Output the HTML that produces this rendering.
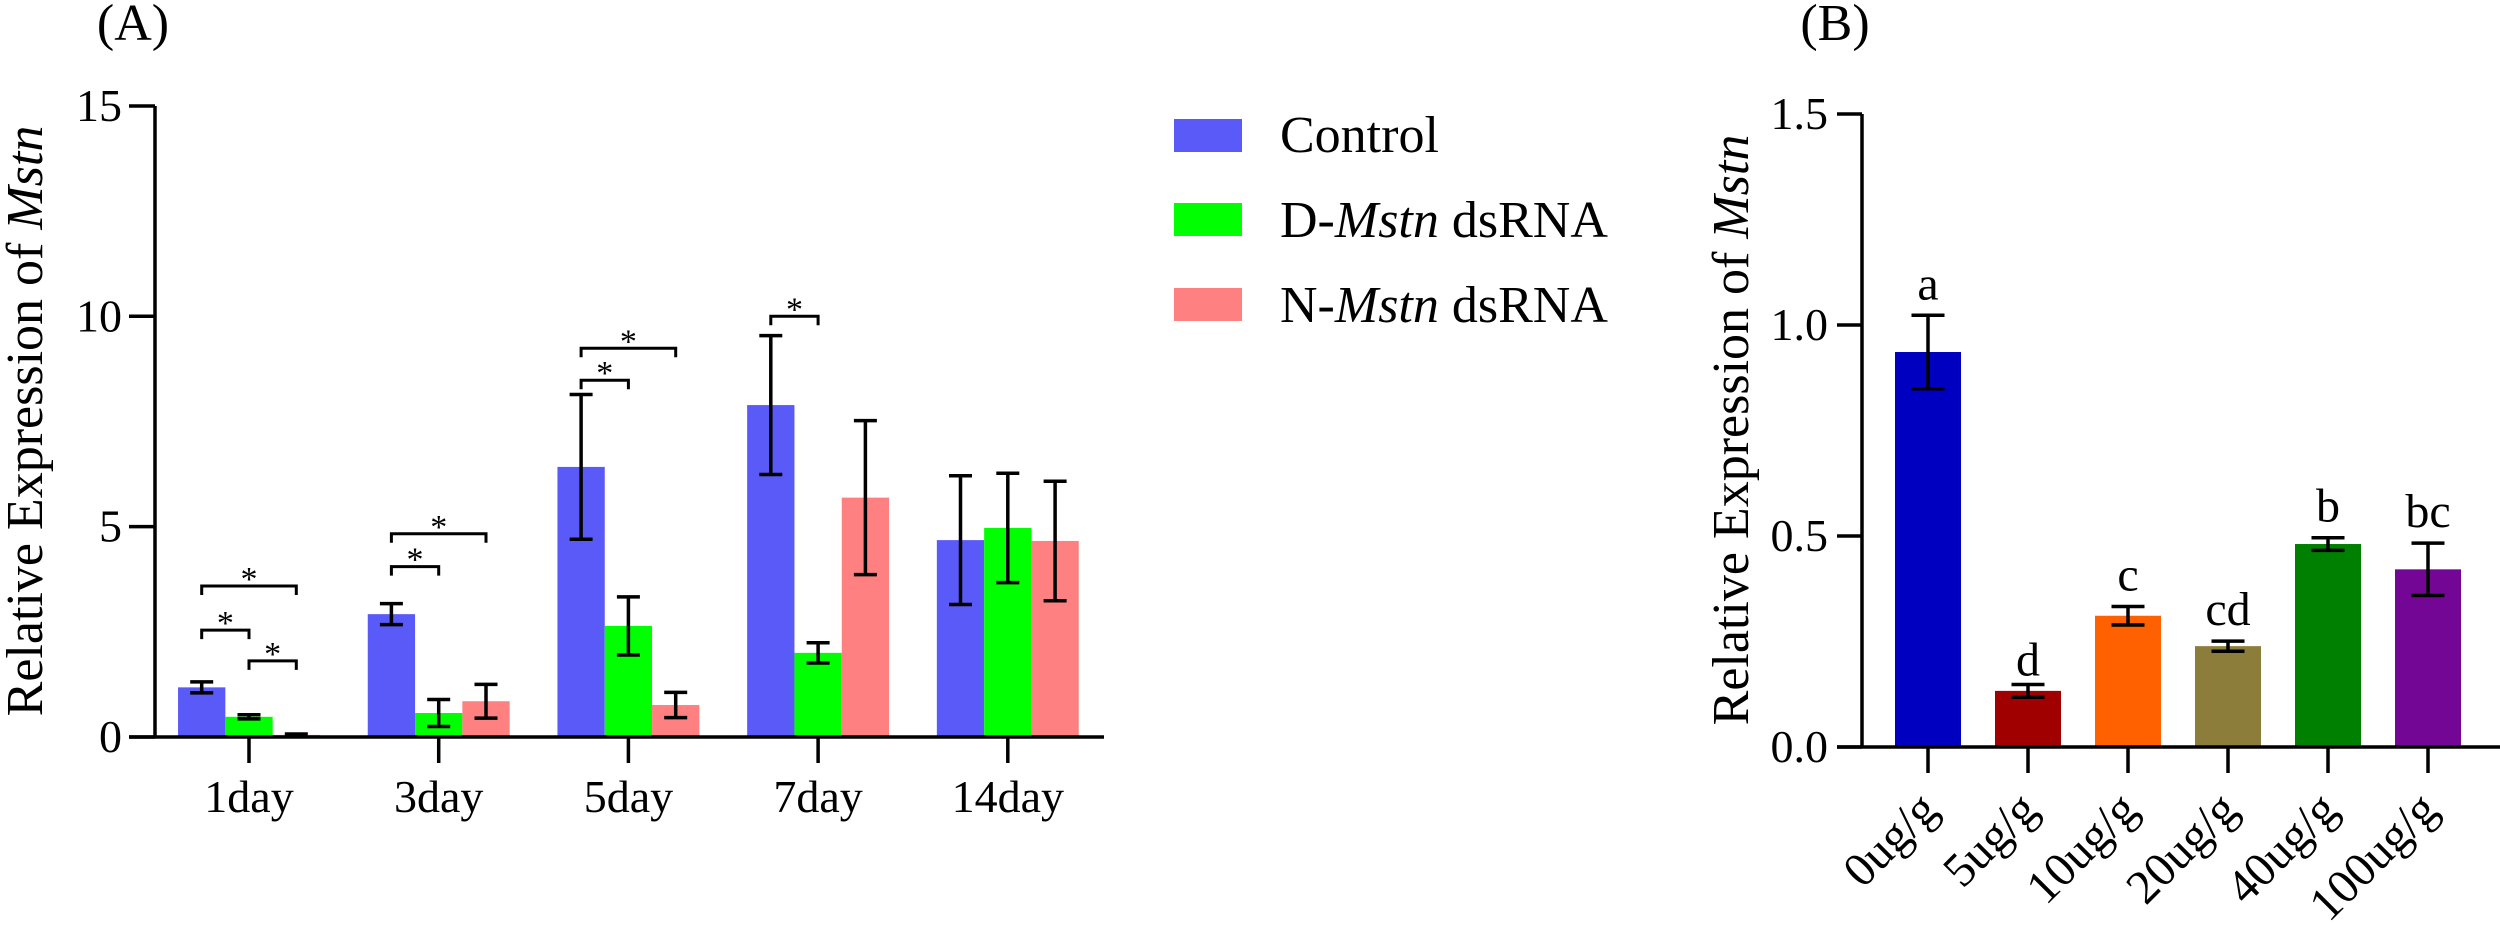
<!DOCTYPE html>
<html><head><meta charset="utf-8"><style>
html,body{margin:0;padding:0;background:#fff;}
svg{display:block;font-family:"Liberation Serif","Times New Roman",serif;}
svg text{font-family:"Liberation Serif","Times New Roman",serif;}
</style></head><body>
<svg id="fig" width="2500" height="926" viewBox="0 0 2500 926" xmlns="http://www.w3.org/2000/svg">
<text x="133" y="40" font-size="52" text-anchor="middle">(A)</text>
<text x="1835" y="40" font-size="52" text-anchor="middle">(B)</text>
<text transform="translate(42,421) rotate(-90)" font-size="52" text-anchor="middle">Relative Expression of <tspan font-style="italic">Mstn</tspan></text>
<text transform="translate(1748,430) rotate(-90)" font-size="52" text-anchor="middle">Relative Expression of <tspan font-style="italic">Mstn</tspan></text>
<g>
<rect x="1174" y="119" width="68" height="33" fill="#5a5af8"/>
<rect x="1174" y="203" width="68" height="33" fill="#00ff00"/>
<rect x="1174" y="288" width="68" height="33" fill="#ff8080"/>
<text x="1280" y="152" font-size="52">Control</text>
<text x="1280" y="237" font-size="52">D-<tspan font-style="italic">Mstn</tspan> dsRNA</text>
<text x="1280" y="322" font-size="52">N-<tspan font-style="italic">Mstn</tspan> dsRNA</text>
</g>
<g id="pa"></g>
<g id="pb"></g>
</svg>
<script>
// Panel A data
const daysA = ["1day","3day","5day","7day","14day"];
const controlMean = [1.18, 2.92, 6.42, 7.89, 4.68];
const controlErr = [0.13, 0.25, 1.72, 1.65, 1.53];
const dMstnMean = [0.48, 0.57, 2.64, 2.0, 4.97];
const dMstnErr = [0.05, 0.32, 0.69, 0.24, 1.3];
const nMstnMean = [0.05, 0.85, 0.76, 5.69, 4.66];
const nMstnErr = [0.02, 0.4, 0.3, 1.83, 1.42];
const yTicksA = [0, 5, 10, 15];
// significance brackets: [groupIndex, fromSeries, toSeries, level value]
const sigGroup = [0, 0, 0, 1, 1, 2, 2, 3];
const sigFrom = [0, 1, 0, 0, 0, 0, 0, 0];
const sigTo = [1, 2, 2, 1, 2, 1, 2, 1];
const sigLevel = [2.54, 1.81, 3.59, 4.05, 4.83, 8.48, 9.24, 10.0];
// Panel B data
const dosesB = ["0ug/g","5ug/g","10ug/g","20ug/g","40ug/g","100ug/g"];
const meanB = [0.936, 0.133, 0.311, 0.239, 0.481, 0.421];
const errB = [0.087, 0.015, 0.022, 0.012, 0.015, 0.062];
const lettersB = ["a","d","c","cd","b","bc"];
const yTicksB = ["0.0","0.5","1.0","1.5"];

const NS = "http://www.w3.org/2000/svg";
function mk(parent, tag, attrs){const e=document.createElementNS(NS,tag);for(const k in attrs)e.setAttribute(k,attrs[k]);parent.appendChild(e);return e;}

// ---- Panel A ----
const pa = document.getElementById('pa');
const aX0 = 155, aY0 = 737, aPerUnit = 42.07, aGroup0 = 249, aGroupStep = 189.7, aBarW = 47.3;
function yA(v){return aY0 - v*aPerUnit;}
function gA(i){return aGroup0 + i*aGroupStep;}
function bxA(i,s){return gA(i) + (s-1)*aBarW;}
const seriesMean = [controlMean, dMstnMean, nMstnMean];
const seriesErr = [controlErr, dMstnErr, nMstnErr];
const seriesColor = ["#5a5af8","#00ff00","#ff8080"];
const seriesName = ["control","d-mstn","n-mstn"];
for(let s=0;s<3;s++){
  for(let i=0;i<daysA.length;i++){
    const m = seriesMean[s][i], e = seriesErr[s][i], cx = bxA(i,s);
    const r = mk(pa,'rect',{x:cx-aBarW/2,y:yA(m),width:aBarW,height:aY0-yA(m),fill:seriesColor[s]});
    
    
    const g = mk(pa,'path',{d:`M${cx},${yA(m+e)}V${yA(m-e)}M${cx-11.5},${yA(m+e)}H${cx+11.5}M${cx-11.5},${yA(m-e)}H${cx+11.5}`,stroke:'#000','stroke-width':3.5,fill:'none'});
    
    
  }
}
const axA = mk(pa,'path',{d:`M${aX0},${yA(15)}V${aY0}M129,${aY0}H1104`,stroke:'#000','stroke-width':3.5,fill:'none'});


for(const t of yTicksA){
  const tk = mk(pa,'line',{x1:129,x2:aX0,y1:yA(t),y2:yA(t),stroke:'#000','stroke-width':3.5});
  
  
  const tl = mk(pa,'text',{x:122,y:yA(t)+15,'font-size':46,'text-anchor':'end'});
  tl.textContent = t;
  
  
}
for(let i=0;i<daysA.length;i++){
  const tk = mk(pa,'line',{x1:gA(i),x2:gA(i),y1:aY0,y2:aY0+26,stroke:'#000','stroke-width':3.5});
  
  
  const tl = mk(pa,'text',{x:gA(i),y:812,'font-size':46,'text-anchor':'middle'});
  tl.textContent = daysA[i];
  
  
}
for(let k=0;k<sigGroup.length;k++){
  const x1 = bxA(sigGroup[k],sigFrom[k]), x2 = bxA(sigGroup[k],sigTo[k]), y = yA(sigLevel[k]);
  const b = mk(pa,'path',{d:`M${x1},${y+9}V${y}H${x2}V${y+9}`,stroke:'#000','stroke-width':3,fill:'none'});
  
  
  const st = mk(pa,'text',{x:(x1+x2)/2,y:y+4,'font-size':34,'text-anchor':'middle'});
  st.textContent = '*';
  
  
}

// ---- Panel B ----
const pb = document.getElementById('pb');
const bX0 = 1862, bY0 = 747, bPerUnit = 422, bC0 = 1928, bStep = 100, bBarW = 66;
const colorsB = ["#0000c0","#a00000","#ff6000","#8c7d3a","#008000","#740696"];
function yB(v){return bY0 - v*bPerUnit;}
function cB(i){return bC0 + i*bStep;}
for(let i=0;i<dosesB.length;i++){
  const m = meanB[i], e = errB[i], cx = cB(i);
  const r = mk(pb,'rect',{x:cx-bBarW/2,y:yB(m),width:bBarW,height:bY0-yB(m),fill:colorsB[i]});
  
  
  const g = mk(pb,'path',{d:`M${cx},${yB(m+e)}V${yB(m-e)}M${cx-16.5},${yB(m+e)}H${cx+16.5}M${cx-16.5},${yB(m-e)}H${cx+16.5}`,stroke:'#000','stroke-width':3.5,fill:'none'});
  
  
  const gap = lettersB[i] === 'd' ? 9 : 16;
  const lt = mk(pb,'text',{x:cx,y:yB(m+e)-gap,'font-size':48,'text-anchor':'middle'});
  lt.textContent = lettersB[i];
  
  
  const tk = mk(pb,'line',{x1:cx,x2:cx,y1:bY0,y2:bY0+26,stroke:'#000','stroke-width':3.5});
  
  
  const xl = mk(pb,'text',{transform:`translate(${cx+12},812) rotate(-45)`,'font-size':48,'text-anchor':'end'});
  xl.textContent = dosesB[i];
  
  
}
const axB = mk(pb,'path',{d:`M${bX0},${yB(1.5)}V${bY0}M1837,${bY0}H2500`,stroke:'#000','stroke-width':3.5,fill:'none'});


for(const t of yTicksB){
  const v = parseFloat(t);
  const tk = mk(pb,'line',{x1:1837,x2:bX0,y1:yB(v),y2:yB(v),stroke:'#000','stroke-width':3.5});
  
  
  const tl = mk(pb,'text',{x:1828,y:yB(v)+15,'font-size':46,'text-anchor':'end'});
  tl.textContent = t;
  
  
}
</script>
</body></html>
